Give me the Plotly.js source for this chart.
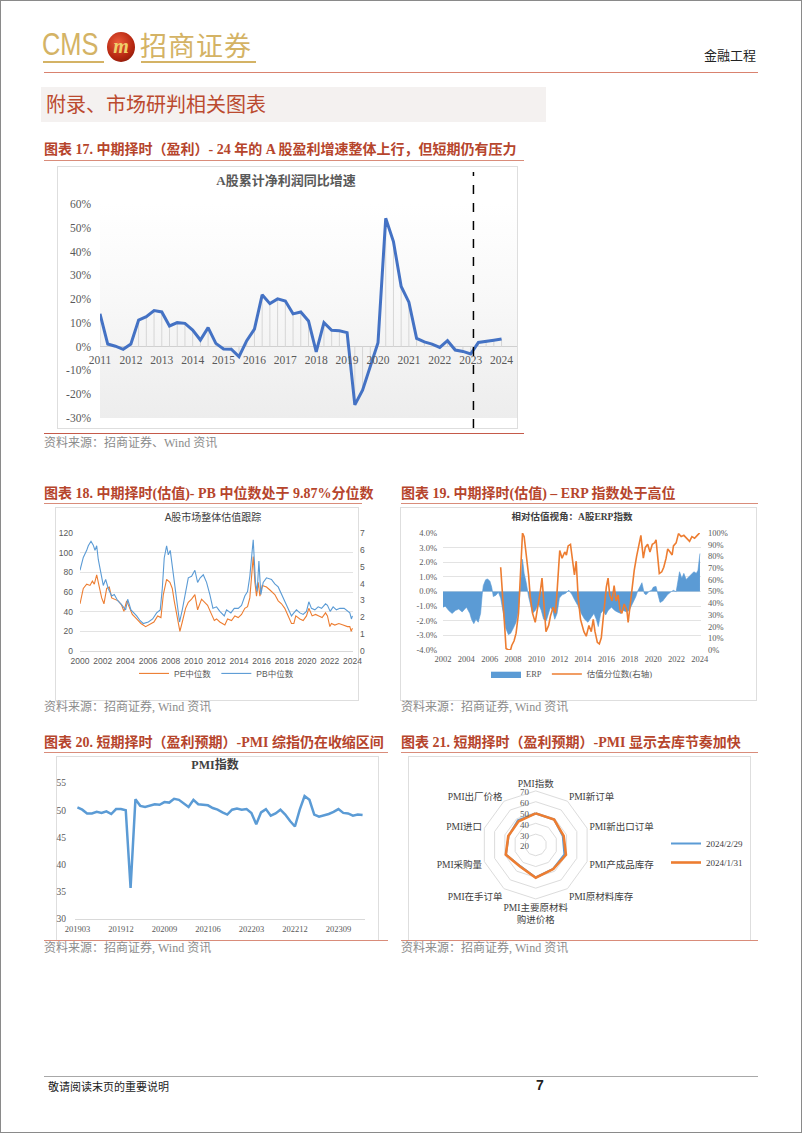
<!DOCTYPE html>
<html><head><meta charset="utf-8">
<script src="https://cdn.plot.ly/plotly-3.0.1.min.js"></script>
<style>
html,body{margin:0;padding:0;background:#fff;}
body{width:802px;height:1133px;position:relative;overflow:hidden;font-family:"Liberation Serif","Noto Sans CJK SC",serif;}
.abs{position:absolute;}
.frame{position:absolute;left:0;top:0;width:800px;height:1131px;border:1px solid #8a8a8a;}
.cap{position:absolute;font-weight:bold;font-size:14px;color:#b6452c;white-space:nowrap;line-height:16px;}
.uline{position:absolute;height:1px;background:#d98c7a;}
.src{position:absolute;font-size:12px;color:#8c8c8c;white-space:nowrap;line-height:14px;}
.box{position:absolute;border:1px solid #dedede;box-sizing:border-box;}
.chart{position:absolute;}
</style></head>
<body>
<div class="frame"></div>

<!-- header -->
<div class="abs" style="left:42px;top:27px;font-family:'Liberation Sans',sans-serif;font-size:31px;color:#d4b365;line-height:36px;transform:scaleX(0.82);transform-origin:0 0;">CMS</div>
<div class="abs" style="left:43px;top:61px;width:61px;height:2px;background:#d4b365"></div>
<div class="abs" style="left:107px;top:32px;width:28px;height:30px;border-radius:50%;background:radial-gradient(circle at 40% 35%,#ec5a3a,#b3250f 60%,#6d1208);"></div>
<div class="abs" style="left:110px;top:34px;width:22px;text-align:center;font-family:'Liberation Serif',serif;font-style:italic;font-weight:bold;font-size:20px;color:#f0cf6a;line-height:24px;">m</div>
<div class="abs" style="left:140px;top:29px;font-family:'Noto Sans CJK SC',sans-serif;font-size:27px;color:#d4b365;line-height:32px;letter-spacing:1px;">招商证券</div>
<div class="abs" style="left:141px;top:61px;width:115px;height:2px;background:#d4b365"></div>
<div class="abs" style="left:704px;top:47px;font-family:'Noto Sans CJK SC',sans-serif;font-size:13px;color:#222;line-height:16px;">金融工程</div>
<div class="abs" style="left:44px;top:72px;width:714px;height:1px;background:#d9826f"></div>

<div class="abs" style="left:41px;top:87px;width:505px;height:35px;background:#f4f1f0"></div>
<div class="abs" style="left:46px;top:91px;font-family:'Noto Sans CJK SC',sans-serif;font-size:20px;color:#bb4a2f;line-height:26px;">附录、市场研判相关图表</div>

<!-- chart 17 -->
<div class="cap" style="left:44px;top:142px;">图表 17. 中期择时（盈利）- 24 年的 A 股盈利增速整体上行，但短期仍有压力</div>
<div class="uline" style="left:44px;top:160px;width:480px;"></div>
<div class="box" style="left:57px;top:166px;width:461px;height:263px;"></div>
<div class="abs" style="left:100px;top:204px;width:417px;height:214px;background:linear-gradient(to bottom,#ffffff 0%,#f8f8f8 45%,#ededed 100%);"></div>
<div id="c17" class="chart" style="left:58px;top:167px;width:460px;height:261px;"></div>
<div class="abs" style="left:44px;top:433px;width:480px;height:1px;background:#c55a4a"></div>
<div class="src" style="left:44px;top:436px;">资料来源：招商证券、Wind 资讯</div>

<!-- chart 18 -->
<div class="cap" style="left:44px;top:486px;">图表 18. 中期择时(估值)- PB 中位数处于 9.87%分位数</div>
<div class="uline" style="left:44px;top:503px;width:318px;"></div>
<div class="box" style="left:55px;top:507px;width:304px;height:194px;"></div>
<div id="c18" class="chart" style="left:56px;top:508px;width:320px;height:192px;"></div>
<div class="src" style="left:44px;top:700px;">资料来源：招商证券, Wind 资讯</div>

<!-- chart 19 -->
<div class="cap" style="left:401px;top:486px;">图表 19. 中期择时(估值) – ERP 指数处于高位</div>
<div class="uline" style="left:401px;top:503px;width:357px;"></div>
<div class="box" style="left:400px;top:507px;width:357px;height:194px;"></div>
<div id="c19" class="chart" style="left:401px;top:508px;width:340px;height:192px;"></div>
<div class="src" style="left:401px;top:700px;">资料来源：招商证券, Wind 资讯</div>

<!-- chart 20 -->
<div class="cap" style="left:44px;top:735px;">图表 20. 短期择时（盈利预期）-PMI 综指仍在收缩区间</div>
<div class="uline" style="left:44px;top:752px;width:344px;"></div>
<div class="box" style="left:56px;top:756px;width:323px;height:185px;"></div>
<div id="c20" class="chart" style="left:56px;top:757px;width:322px;height:183px;"></div>
<div class="uline" style="left:44px;top:940px;width:344px;"></div>
<div class="src" style="left:44px;top:941px;">资料来源：招商证券, Wind 资讯</div>

<!-- chart 21 -->
<div class="cap" style="left:401px;top:735px;">图表 21. 短期择时（盈利预期）-PMI 显示去库节奏加快</div>
<div class="uline" style="left:401px;top:752px;width:357px;"></div>
<div class="box" style="left:408px;top:756px;width:343px;height:185px;"></div>
<div id="c21" class="chart" style="left:409px;top:757px;width:340px;height:183px;"></div>
<div class="uline" style="left:401px;top:940px;width:357px;"></div>
<div class="src" style="left:401px;top:941px;">资料来源：招商证券, Wind 资讯</div>

<!-- footer -->
<div class="abs" style="left:44px;top:1076px;width:714px;height:1px;background:#a8a8a8"></div>
<div class="abs" style="left:48px;top:1079px;font-family:'Noto Sans CJK SC',sans-serif;font-size:11px;color:#222;line-height:14px;">敬请阅读末页的重要说明</div>
<div class="abs" style="left:536px;top:1077px;font-family:'Liberation Sans',sans-serif;font-weight:bold;font-size:14px;color:#222;line-height:16px;">7</div>

<script>
// ---------- Chart 17: A股累计净利润同比增速 (quarterly, %) ----------
const profitQuarter = [2011,2011.25,2011.5,2011.75,2012,2012.25,2012.5,2012.75,2013,2013.25,2013.5,2013.75,
  2014,2014.25,2014.5,2014.75,2015,2015.25,2015.5,2015.75,2016,2016.25,2016.5,2016.75,2017,2017.25,2017.5,2017.75,
  2018,2018.25,2018.5,2018.75,2019,2019.25,2019.5,2019.75,2020,2020.25,2020.5,2020.75,2021,2021.25,2021.5,2021.75,
  2022,2022.25,2022.5,2022.75,2023,2023.25,2023.5,2023.75,2024];
const profitGrowth = [13.8,1.1,0.2,-1.1,1.1,11.2,12.6,15.2,14.6,8.7,10.1,9.8,
  7.0,2.8,8.0,1.4,-1.0,-1.1,-4.2,2.5,7.4,21.8,18.1,20.1,19.2,13.8,14.6,10.8,
  -2.2,10.1,6.9,6.7,5.9,-24.5,-18.3,-8.4,1.7,54.0,44.2,25.3,18.7,3.5,2.0,1.1,
  -0.3,2.5,-1.4,-2.0,-3.1,1.8,2.4,2.7,3.2];
const profitYearTicks = [2011,2012,2013,2014,2015,2016,2017,2018,2019,2020,2021,2022,2023,2024];
const profitYearLabels = ['2011','2012','2013','2014','2015','2016','2017','2018','2019','2020','2021','2022','2023','2024'];
const profitPctTicks = [-30,-20,-10,0,10,20,30,40,50,60];
const profitPctLabels = ['-30%','-20%','-10%','0%','10%','20%','30%','40%','50%','60%'];
const profitDivider = 2023.09;

// ---------- Chart 18: PE / PB 中位数 ----------
const peYear = [2000.00,2000.29,2000.59,2000.88,2001.09,2001.26,2001.47,2001.61,2001.76,2001.91,
  2002.11,2002.35,2002.58,2002.79,2003.08,2003.37,2003.67,2003.87,2004.11,2004.31,
  2004.61,2004.99,2005.37,2005.78,2006.07,2006.51,2006.84,2007.13,2007.34,2007.63,
  2007.92,2008.13,2008.30,2008.51,2008.80,2009.01,2009.30,2009.54,2009.83,2010.12,
  2010.36,2010.71,2010.94,2011.24,2011.53,2011.83,2012.03,2012.32,2012.76,2013.00,
  2013.35,2013.64,2013.94,2014.23,2014.52,2014.76,2014.96,2015.26,2015.41,2015.55,
  2015.70,2015.85,2016.05,2016.43,2016.73,2017.16,2017.46,2017.75,2018.04,2018.34,
  2018.63,2018.84,2019.01,2019.37,2019.66,2019.95,2020.16,2020.45,2020.75,2021.04,
  2021.33,2021.63,2021.80,2022.01,2022.15,2022.45,2022.80,2023.18,2023.56,2023.77,
  2023.89,2024.00];
const peMedian = [48,63.6,68,66.7,71,68,77.5,68,62,54,
  48,63.6,65,54,52.7,51,46.5,40.3,51,45,
  37.2,32.6,28,24.8,26.4,29.5,35.7,34,57.4,72.9,
  69.8,63.6,51,38.8,20,29.5,43.4,49.6,52.7,57.4,
  41.9,52.7,49.6,46.5,38.8,31,32.6,29.5,26.4,32.6,
  31,35.7,34,37.2,43.4,45,54,96,69.8,55.8,
  69.8,55.8,66.7,65,62,57.4,51,48,43.4,35.7,
  28,28,35.7,32.6,31,35.7,43.4,35.7,37.2,35.7,
  34,38.8,35.7,24.8,28,26.4,28,26.4,24.8,24.8,
  20,23.3];
const pbYear = [2000.00,2000.29,2000.59,2000.73,2000.97,2001.17,2001.32,2001.47,2001.61,2001.91,
  2002.05,2002.26,2002.49,2002.79,2003.02,2003.32,2003.61,2004.02,2004.20,2004.49,
  2004.75,2004.99,2005.28,2005.57,2006.02,2006.40,2006.75,2007.07,2007.25,2007.42,
  2007.63,2007.78,2007.95,2008.13,2008.30,2008.51,2008.77,2009.01,2009.30,2009.54,
  2009.83,2010.12,2010.36,2010.59,2010.86,2011.15,2011.44,2011.71,2012.03,2012.32,
  2012.71,2012.91,2013.29,2013.59,2013.94,2014.23,2014.52,2014.76,2014.96,2015.26,
  2015.46,2015.61,2015.76,2015.93,2016.14,2016.43,2016.87,2017.16,2017.46,2017.75,
  2018.04,2018.34,2018.63,2018.84,2019.07,2019.37,2019.66,2019.95,2020.16,2020.39,
  2020.69,2020.98,2021.28,2021.63,2021.80,2022.04,2022.30,2022.59,2022.89,2023.27,
  2023.56,2023.77,2023.91,2024.00];
const pbMedian = [4.79,5.55,5.97,6.24,6.51,6.28,5.97,6.24,5.43,4.52,
  3.89,4.25,3.71,3.26,3.35,2.98,2.80,2.44,3.07,2.44,
  2.26,2.08,1.81,1.63,1.72,1.90,2.26,2.44,3.71,5.52,
  6.24,5.70,5.97,4.97,4.25,2.80,1.72,2.44,3.53,4.34,
  4.43,4.79,4.07,4.34,4.52,4.07,3.35,2.53,2.62,2.35,
  2.08,2.44,2.26,2.53,2.53,2.71,3.26,3.53,4.43,6.60,
  4.07,3.53,5.34,3.35,4.07,4.34,4.25,3.98,3.80,3.35,
  2.98,2.44,2.08,2.26,2.44,2.26,2.17,2.35,2.92,2.53,
  2.44,2.62,2.53,2.80,2.71,2.35,2.62,2.44,2.53,2.53,
  2.35,2.26,1.90,2.08];
const valYearTicks18 = [2000,2002,2004,2006,2008,2010,2012,2014,2016,2018,2020,2022,2024];
const valYearLabels18 = ['2000','2002','2004','2006','2008','2010','2012','2014','2016','2018','2020','2022','2024'];
const peTicks = [0,20,40,60,80,100,120];
const pbTicks = [0,1,2,3,4,5,6,7];

// ---------- Chart 19: ERP & 估值分位数 ----------
const erpYear = [2002.00,2002.20,2002.49,2002.78,2003.06,2003.35,2003.64,2004.01,2004.30,2004.44,
  2004.64,2004.82,2005.02,2005.22,2005.36,2005.45,2005.65,2005.82,2006.02,2006.17,
  2006.31,2006.54,2006.74,2006.94,2007.17,2007.37,2007.60,2007.80,2008.03,2008.26,
  2008.47,2008.67,2008.81,2008.95,2009.13,2009.33,2009.47,2009.67,2009.90,2010.19,
  2010.42,2010.62,2010.85,2011.05,2011.20,2011.40,2011.57,2011.77,2011.97,2012.20,
  2012.49,2012.78,2013.06,2013.26,2013.55,2013.84,2014.13,2014.41,2014.70,2014.93,
  2015.13,2015.30,2015.51,2015.71,2015.94,2016.14,2016.43,2016.71,2016.94,2017.23,
  2017.46,2017.72,2017.95,2018.24,2018.52,2018.67,2018.95,2019.04,2019.24,2019.39,
  2019.67,2019.87,2020.02,2020.25,2020.39,2020.59,2020.82,2021.02,2021.25,2021.54,
  2021.74,2021.97,2022.11,2022.26,2022.46,2022.63,2022.83,2023.03,2023.26,2023.49,
  2023.70,2023.84,2024.01];
const erpValue = [-1.07,-1.0,-1.3,-1.5,-1.3,-1.2,-1.4,-1.07,-1.5,-1.9,
  -2.2,-1.9,-2.1,-1.5,-0.2,0.4,0.8,0.86,0.7,0.3,
  -0.35,-0.25,-0.05,-0.45,-1.5,-2.5,-2.95,-2.85,-2.5,-2.1,
  -1.3,0.6,2.2,1.24,0.6,-0.35,-0.86,-1.5,-1.3,-0.86,
  -1.3,-1.9,-2.0,-1.5,-1.07,-1.3,-1.9,-1.5,-0.45,-0.23,
  -0.13,0.08,-0.23,-0.55,-0.96,-1.5,-1.9,-2.1,-1.8,-1.5,
  -1.9,-2.4,-1.5,-1.3,-1.6,-1.3,-1.07,-1.3,-1.4,-1.5,
  -1.3,-1.4,-1.3,-0.86,-0.35,0.02,0.4,0.6,-0.13,-0.23,
  0.02,0.08,0.3,0.35,-0.13,-0.75,-0.65,-0.45,-0.2,-0.02,
  0.08,-0.02,0.6,1.35,0.9,1.24,0.82,1.0,1.15,1.35,
  1.24,1.45,2.6];
const pctYear = [2006.94,2007.11,2007.26,2007.40,2007.60,2007.80,2007.89,2008.09,2008.26,2008.47,
  2008.70,2008.81,2008.95,2009.13,2009.33,2009.47,2009.67,2009.90,2010.19,2010.33,
  2010.48,2010.62,2010.82,2011.05,2011.20,2011.43,2011.63,2011.77,2011.91,2012.00,
  2012.20,2012.43,2012.57,2012.72,2012.92,2013.12,2013.26,2013.41,2013.58,2013.78,
  2014.07,2014.27,2014.50,2014.70,2014.87,2015.02,2015.22,2015.39,2015.56,2015.79,
  2015.99,2016.14,2016.28,2016.48,2016.66,2016.83,2017.00,2017.17,2017.32,2017.52,
  2017.75,2017.86,2017.98,2018.15,2018.38,2018.58,2018.78,2018.95,2019.16,2019.33,
  2019.53,2019.73,2019.93,2020.13,2020.25,2020.39,2020.53,2020.74,2020.91,2021.11,
  2021.25,2021.45,2021.63,2021.74,2021.97,2022.17,2022.40,2022.63,2022.86,2023.12,
  2023.32,2023.55,2023.78,2023.98];
const pctValue = [70.7,49.7,23.6,1.3,0,0.5,3.9,7.9,14.4,31.4,
  83.8,100,96.9,81.2,64.1,45.8,31.4,23.6,39.3,49.7,
  61.5,43,15.7,21,28.8,36.6,31.4,49.7,75.9,85.1,
  78.5,83.8,81.2,89,90.3,73.3,64.1,75.9,44.5,26.2,
  15.7,11.8,21,15.7,26.2,15.7,6.5,5.2,10.5,34,
  53.7,61.5,47,41.9,55,41.9,47,34,31.4,39.3,
  34,23.6,34,52.4,68.1,79.8,91.6,98,78.5,87.7,
  90.3,83.8,90.3,91.6,94.2,81.2,65.4,66.8,70.7,78.5,
  86.4,83.8,81.2,89,91.6,99.5,96.9,98,95.5,92.9,
  96.9,95.5,98,100];
const valYearTicks19 = [2002,2004,2006,2008,2010,2012,2014,2016,2018,2020,2022,2024];
const valYearLabels19 = ['2002','2004','2006','2008','2010','2012','2014','2016','2018','2020','2022','2024'];
const erpTicks = [-4,-3,-2,-1,0,1,2,3,4];
const erpLabels = ['-4.0%','-3.0%','-2.0%','-1.0%','0.0%','1.0%','2.0%','3.0%','4.0%'];
const pctTicks = [0,10,20,30,40,50,60,70,80,90,100];
const pctLabels = ['0%','10%','20%','30%','40%','50%','60%','70%','80%','90%','100%'];

// ---------- Chart 20: PMI ----------
const pmiMonth = ['201903','201904','201905','201906','201907','201908','201909','201910','201911','201912',
  '202001','202002','202003','202004','202005','202006','202007','202008','202009','202010','202011','202012',
  '202101','202102','202103','202104','202105','202106','202107','202108','202109','202110','202111','202112',
  '202201','202202','202203','202204','202205','202206','202207','202208','202209','202210','202211','202212',
  '202301','202302','202303','202304','202305','202306','202307','202308','202309','202310','202311','202312',
  '202401','202402'];
const pmiValue = [50.5,50.1,49.4,49.4,49.7,49.5,49.8,49.3,50.2,50.2,
  50.0,35.7,52.0,50.8,50.6,50.9,51.1,51.0,51.5,51.4,52.1,51.9,
  51.3,50.6,51.9,51.1,51.0,50.9,50.4,50.1,49.6,49.2,50.1,50.3,
  50.1,50.2,49.5,47.4,49.6,50.2,49.0,49.4,50.1,49.2,48.0,47.0,
  50.1,52.6,51.9,49.2,48.8,49.0,49.3,49.7,50.2,49.5,49.4,49.0,
  49.2,49.1];
const pmiTickMonths = ['201903','201912','202009','202106','202203','202212','202309'];
const pmiTicks = [30,35,40,45,50,55];

// ---------- Chart 21: PMI 分项雷达 ----------
const radarItems = ['PMI指数','PMI新订单','PMI新出口订单','PMI产成品库存','PMI原材料库存','PMI主要原材料<br>购进价格','PMI在手订单','PMI采购量','PMI进口','PMI出厂价格'];
const radarFeb = [49.1,49.0,46.3,47.9,47.4,50.1,44.3,49.0,46.4,48.1];
const radarJan = [49.2,49.0,47.2,49.4,47.6,50.4,44.7,49.1,46.7,47.0];
const radarTicks = [20,30,40,50,60,70];
const radarSeriesNames = ['2024/2/29','2024/1/31'];

// ---------- drawing ----------
const SERIF = '"Liberation Serif","Noto Sans CJK SC",serif';
const SANS = '"Liberation Sans","Noto Sans CJK SC",sans-serif';
const CFG = {displayModeBar:false, staticPlot:true};
const CLEAR = 'rgba(0,0,0,0)';

// Chart 17
(function(){
  const dx=[], dy=[];
  profitQuarter.forEach((x,i)=>{dx.push(x,x,null); dy.push(0,profitGrowth[i],null);});
  Plotly.newPlot('c17',[
    {x:dx,y:dy,mode:'lines',line:{color:'#d6d6d6',width:1},hoverinfo:'skip'},
    {x:profitQuarter,y:profitGrowth,mode:'lines',line:{color:'#4472c4',width:3}}
  ],{
    width:460,height:261,margin:{l:42,r:1,t:37,b:10},
    paper_bgcolor:CLEAR,plot_bgcolor:CLEAR,showlegend:false,
    title:{text:'<b>A股累计净利润同比增速</b>',font:{family:SERIF,size:13,color:'#595959'},
      x:228/460,xref:'container',xanchor:'center',y:1-13/261,yref:'container',yanchor:'middle'},
    xaxis:{range:[2011,2024.5],tickvals:profitYearTicks,ticktext:profitYearLabels,anchor:'free',position:0.332,
      showline:false,showgrid:false,zeroline:false,ticks:'',ticklabelstandoff:5,
      tickfont:{family:SERIF,size:11.5,color:'#595959'}},
    yaxis:{range:[-30,60],tickvals:profitPctTicks,ticktext:profitPctLabels,showgrid:false,
      zeroline:true,zerolinecolor:'#d0d0d0',zerolinewidth:1,ticks:'',ticklabelstandoff:8,
      tickfont:{family:SERIF,size:11.5,color:'#595959'}},
    shapes:[{type:'line',xref:'x',yref:'paper',x0:profitDivider,x1:profitDivider,y0:-0.047,y1:1.15,
      line:{color:'#000',width:1.5,dash:'dash'}}]
  },CFG);
})();

// Chart 18
Plotly.newPlot('c18',[
  {x:peYear,y:peMedian,name:'PE中位数',mode:'lines',line:{color:'#ed7d31',width:1.1},yaxis:'y'},
  {x:pbYear,y:pbMedian,name:'PB中位数',mode:'lines',line:{color:'#5b9bd5',width:1.1},yaxis:'y2'}
],{
  width:320,height:192,margin:{l:24,r:23,t:25,b:38},
  paper_bgcolor:CLEAR,plot_bgcolor:CLEAR,
  title:{text:'A股市场整体估值跟踪',font:{family:SANS,size:10,color:'#404040'},
    x:157/320,xref:'container',xanchor:'center',y:1-9/192,yref:'container',yanchor:'middle'},
  xaxis:{range:[2000,2024.05],tickvals:valYearTicks18,ticktext:valYearLabels18,showgrid:false,showline:true,
    linecolor:'#d9d9d9',zeroline:false,ticks:'',ticklabelstandoff:2,tickfont:{family:SANS,size:8.5,color:'#595959'}},
  yaxis:{range:[0,120],tickvals:peTicks,showgrid:true,gridcolor:'#e3e3e3',zeroline:false,ticks:'',
    ticklabelstandoff:6,tickfont:{family:SANS,size:8.5,color:'#595959'}},
  yaxis2:{range:[0,7],tickvals:pbTicks,overlaying:'y',side:'right',showgrid:false,zeroline:false,ticks:'',
    ticklabelstandoff:6,tickfont:{family:SANS,size:8.5,color:'#595959'}},
  legend:{orientation:'h',x:0.5,xanchor:'center',y:-0.19,yanchor:'middle',font:{family:SANS,size:8.5,color:'#595959'},
    bgcolor:CLEAR,itemwidth:30}
},CFG);

// Chart 19
Plotly.newPlot('c19',[
  {x:erpYear,y:erpValue,name:'ERP',mode:'lines',fill:'tozeroy',fillcolor:'#5b9bd5',line:{color:'#5b9bd5',width:0.6},yaxis:'y'},
  {x:pctYear,y:pctValue,name:'估值分位数(右轴)',mode:'lines',line:{color:'#ed7d31',width:1.6},yaxis:'y2'}
],{
  width:340,height:192,margin:{l:42,r:40,t:25,b:40},
  paper_bgcolor:CLEAR,plot_bgcolor:CLEAR,
  title:{text:'<b>相对估值视角：A股ERP指数</b>',font:{family:SERIF,size:9.5,color:'#404040'},
    x:171/340,xref:'container',xanchor:'center',y:1-9/192,yref:'container',yanchor:'middle'},
  xaxis:{range:[2002,2024.1],tickvals:valYearTicks19,ticktext:valYearLabels19,showgrid:false,showline:false,
    zeroline:false,ticks:'',ticklabelstandoff:2,tickfont:{family:SERIF,size:8.5,color:'#595959'}},
  yaxis:{range:[-4,4],tickvals:erpTicks,ticktext:erpLabels,showgrid:true,gridcolor:'#e3e3e3',zeroline:false,ticks:'',
    ticklabelstandoff:5,tickfont:{family:SERIF,size:8.5,color:'#595959'}},
  yaxis2:{range:[0,100],tickvals:pctTicks,ticktext:pctLabels,overlaying:'y',side:'right',showgrid:false,zeroline:false,
    ticks:'',ticklabelstandoff:6,tickfont:{family:SERIF,size:8.5,color:'#595959'}},
  legend:{orientation:'h',x:0.5,xanchor:'center',y:-0.205,yanchor:'middle',font:{family:SERIF,size:8.5,color:'#595959'},
    bgcolor:CLEAR}
},CFG);

// Chart 20
Plotly.newPlot('c20',[
  {x:pmiMonth,y:pmiValue,mode:'lines',line:{color:'#5b9bd5',width:2.5}}
],{
  width:322,height:183,margin:{l:19,r:13,t:26,b:21},
  paper_bgcolor:CLEAR,plot_bgcolor:CLEAR,showlegend:false,
  title:{text:'<b>PMI指数</b>',font:{family:SERIF,size:12,color:'#404040'},
    x:159/322,xref:'container',xanchor:'center',y:1-8/183,yref:'container',yanchor:'middle'},
  xaxis:{type:'category',range:[-0.5,pmiMonth.length-0.5],tickvals:pmiTickMonths,ticktext:pmiTickMonths,
    showgrid:false,showline:true,linecolor:'#d9d9d9',ticks:'',ticklabelstandoff:2,
    tickfont:{family:SERIF,size:8.5,color:'#595959'}},
  yaxis:{range:[30,55],tickvals:pmiTicks,showgrid:false,zeroline:false,ticks:'',ticklabelstandoff:8,
    tickfont:{family:SERIF,size:9.5,color:'#595959'}}
},CFG);

// Chart 21
Plotly.newPlot('c21',[
  {type:'scatterpolar',r:radarFeb.concat([radarFeb[0]]),theta:radarItems.concat([radarItems[0]]),name:radarSeriesNames[0],
    mode:'lines',line:{color:'#5b9bd5',width:2}},
  {type:'scatterpolar',r:radarJan.concat([radarJan[0]]),theta:radarItems.concat([radarItems[0]]),name:radarSeriesNames[1],
    mode:'lines',line:{color:'#ed7d31',width:2.6}}
],{
  width:340,height:183,margin:{l:0,r:0,t:0,b:0},
  paper_bgcolor:CLEAR,
  polar:{domain:{x:[74/340,184/340],y:[0.219,0.820]},bgcolor:CLEAR,gridshape:'linear',
    radialaxis:{range:[20,70],tickvals:radarTicks,angle:90,side:'counterclockwise',showline:false,
      gridcolor:'#dcdcdc',ticks:'',tickfont:{family:SERIF,size:9,color:'#595959'}},
    angularaxis:{type:'category',categoryarray:radarItems,direction:'clockwise',rotation:90,showgrid:false,
      showline:true,linecolor:'#dcdcdc',ticks:'',tickfont:{family:SERIF,size:9.5,color:'#404040'}}},
  legend:{x:262/340,xanchor:'left',y:1-72/183,yanchor:'top',font:{family:SERIF,size:9,color:'#404040'},
    bgcolor:CLEAR,tracegroupgap:4}
},CFG);
</script>
</body></html>
